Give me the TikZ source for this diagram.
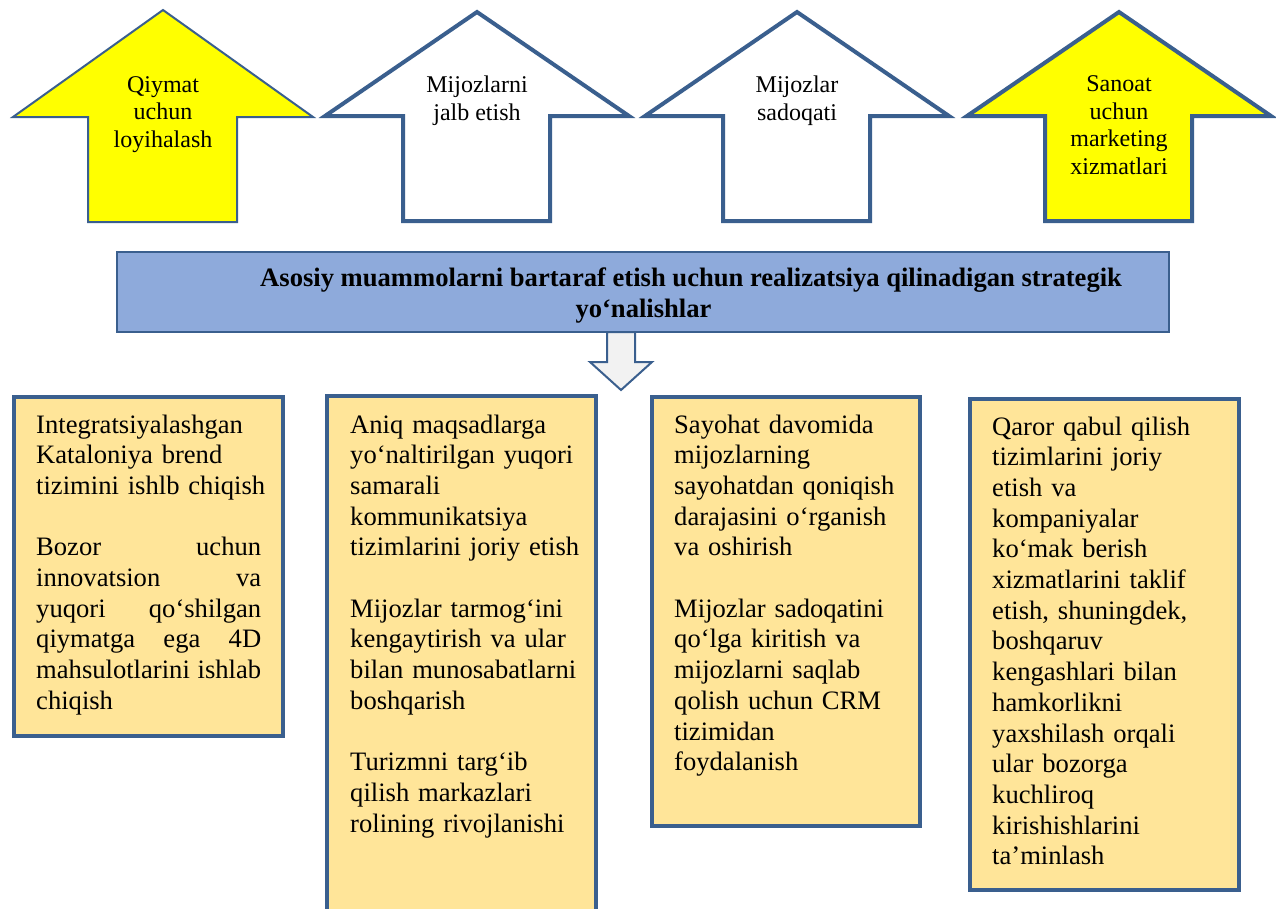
\documentclass[tikz,border=0pt]{standalone}
\usepackage{fontspec}
\setmainfont{Liberation Serif}
\definecolor{edge}{HTML}{3A5F8E}
\definecolor{yel}{HTML}{FFFF00}
\definecolor{boxfill}{HTML}{FFE599}
\definecolor{bannerfill}{HTML}{8EAADB}
\definecolor{arrowfill}{HTML}{F2F2F2}
\newcommand\justline[1]{\leavevmode\hbox to 225pt{#1}}
\begin{document}
\begin{tikzpicture}[x=1pt,y=-1pt,
  thinedge/.style={draw=edge, line width=2pt, line join=miter},
  thickedge/.style={draw=edge, line width=4pt, line join=miter},
  toplabel/.style={font=\fontsize{24}{27.5}\selectfont, align=center, inner sep=0pt, anchor=base},
  boxtext/.style={font=\fontsize{26.6}{30.7}\selectfont, align=left, inner sep=0pt, anchor=base west, text width=#1},
  boxtext/.default=240pt,
  bannertext/.style={font=\fontsize{26.6}{31}\selectfont\bfseries, inner sep=0pt},
  blockbox/.style={thickedge, fill=boxfill, rectangle, inner sep=0pt}
]
\useasboundingbox (0,0) rectangle (1276,908);

% top arrows
\draw[thinedge, fill=yel] (163,10) -- (313,117) -- (237,117) -- (237,222) -- (88,222) -- (88,117) -- (13,117) -- cycle;
\draw[thickedge, fill=white] (477,12) -- (629,116) -- (550,116) -- (550,221) -- (403,221) -- (403,116) -- (325,116) -- cycle;
\draw[thickedge, fill=white] (797,12) -- (949,116) -- (870,116) -- (870,221) -- (723,221) -- (723,116) -- (645,116) -- cycle;
\draw[thickedge, fill=yel] (1119,12) -- (1271,116) -- (1192,116) -- (1192,221) -- (1045,221) -- (1045,116) -- (967,116) -- cycle;

% labels (anchor base = baseline of the last line)
\node[toplabel] (a1) at (163,147) {Qiymat\\uchun\\loyihalash};
\node[toplabel] (a2) at (477,120) {Mijozlarni\\jalb etish};
\node[toplabel] (a3) at (797,120) {Mijozlar\\sadoqati};
\node[toplabel] (a4) at (1119,174) {Sanoat\\uchun\\marketing\\xizmatlari};

% banner
\node[thinedge, fill=bannerfill, rectangle, minimum width=1052pt, minimum height=80pt, inner sep=0pt] (banner) at (643,292) {};
\node[bannertext, anchor=base west] (b1) at (260,286) {Asosiy muammolarni bartaraf etish uchun realizatsiya qilinadigan strategik};
\node[bannertext, anchor=base] (b2) at (643.5,317) {yo‘nalishlar};

% down arrow
\draw[thinedge, fill=arrowfill] (607,332) -- (607,362) -- (590,362) -- (621,390) -- (652,362) -- (635,362) -- (635,332) -- cycle;

% bottom boxes
\draw[blockbox] (14,397) rectangle (283,736);
\draw[blockbox] (327,396) rectangle (596,930);
\draw[blockbox] (652,397) rectangle (920,826);
\draw[blockbox] (970,399) rectangle (1239,890);

\node[boxtext=240pt] (c1) at (36,433) {Integratsiyalashgan\\Kataloniya brend\\tizimini ishlb chiqish\\[30.7pt]%
\justline{Bozor\hfill uchun}\\
\justline{innovatsion\hfill va}\\
\justline{yuqori\hfill qo‘shilgan}\\
\justline{qiymatga\hfill ega\hfill 4D}\\
\justline{mahsulotlarini\hfill ishlab}\\
chiqish};

\node[boxtext] (c2) at (350,433) {Aniq maqsadlarga\\yo‘naltirilgan yuqori\\samarali\\kommunikatsiya\\tizimlarini joriy etish\\[30.7pt]%
Mijozlar tarmog‘ini\\kengaytirish va ular\\bilan munosabatlarni\\boshqarish\\[30.7pt]%
Turizmni targ‘ib\\qilish markazlari\\rolining rivojlanishi};

\node[boxtext] (c3) at (674,433) {Sayohat davomida\\mijozlarning\\sayohatdan qoniqish\\darajasini o‘rganish\\va oshirish\\[30.7pt]%
Mijozlar sadoqatini\\qo‘lga kiritish va\\mijozlarni saqlab\\qolish uchun CRM\\tizimidan\\foydalanish};

\node[boxtext] (c4) at (992,435) {Qaror qabul qilish\\tizimlarini joriy\\etish va\\kompaniyalar\\ko‘mak berish\\xizmatlarini taklif\\etish, shuningdek,\\boshqaruv\\kengashlari bilan\\hamkorlikni\\yaxshilash orqali\\ular bozorga\\kuchliroq\\kirishishlarini\\ta’minlash};
\end{tikzpicture}
\end{document}
